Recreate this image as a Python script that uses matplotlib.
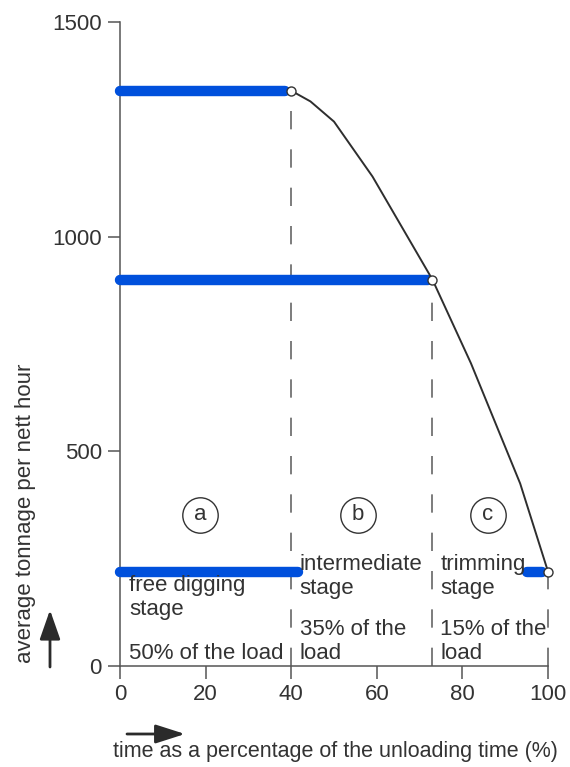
import matplotlib
matplotlib.use("Agg")
import matplotlib.pyplot as plt

plt.rcParams['font.family'] = ['Liberation Sans', 'DejaVu Sans']

# Unloading-rate curve (time %, tonnage per nett hour)
curve_x = [40, 44.5, 50, 59, 73, 82, 93.5, 100]
curve_y = [1340, 1315, 1268, 1140, 900, 705, 425, 220]

# Stage boundaries: end time of each stage and rate at that moment
stage_end_x = [40, 73, 100]
stage_end_y = [1340, 900, 220]

# Average-rate bars: (start, end, level)
bar_start = [0, 0, 0, 95]
bar_end = [38.5, 72, 41.5, 98.5]
bar_level = [1340, 900, 220, 220]

# Stage markers and descriptions
stage_letters = ['a', 'b', 'c']
letter_x = [18.7, 55.6, 86]
letter_y = 352
stage_names = ['free digging\nstage', 'intermediate\nstage', 'trimming\nstage']
stage_share = ['50% of the load', '35% of the\nload', '15% of the\nload']

x_ticks = [0, 20, 40, 60, 80, 100]
y_ticks = [0, 500, 1000, 1500]

W, H = 570, 767
fig = plt.figure(figsize=(W / 100, H / 100), dpi=100)
ax = fig.add_axes([120 / W, 1 - 666 / H, 428 / W, 644 / H])
ax.set_xlim(0, 100)
ax.set_ylim(0, 1500)

FS = 16
TXT = '#333333'
BLUE = '#0050dc'

for sp in ['top', 'right']:
    ax.spines[sp].set_visible(False)
for sp in ['left', 'bottom']:
    ax.spines[sp].set_color('#555555')
    ax.spines[sp].set_linewidth(1.1)

ax.set_xticks(x_ticks)
ax.set_yticks(y_ticks)
ax.tick_params(axis='both', length=9, width=1.1, color='#555555',
               labelsize=FS, labelcolor=TXT, pad=4)

# dashed stage boundaries
for xe, ye in zip(stage_end_x, stage_end_y):
    ax.plot([xe, xe], [0, ye], color='#666666', lw=1.2,
            ls=(0, (11, 12)), zorder=2, clip_on=False)

# average-rate bars
for xs, xe, yl in zip(bar_start, bar_end, bar_level):
    ax.plot([xs, xe], [yl, yl], color=BLUE, lw=7.5,
            solid_capstyle='round', zorder=3, clip_on=False)

# rate curve
ax.plot(curve_x, curve_y, color='#2e2e2e', lw=1.4, zorder=4, clip_on=False)
ax.plot(stage_end_x, stage_end_y, ls='none', marker='o', ms=6.5,
        mfc='white', mec='#333333', mew=1.0, zorder=5, clip_on=False)

# circled stage letters
for lt, lx in zip(stage_letters, letter_x):
    ax.plot(lx, letter_y, marker='o', ms=25.5, mfc='white', mec='#333333',
            mew=1.0, ls='none', zorder=3)
    ax.text(lx, letter_y, lt, ha='center', va='center', fontsize=FS,
            color=TXT, zorder=4)

# stage descriptions (y = baseline of the last line, in pixels from top)
name_pos = [(2.2, 615), (42.0, 594), (74.8, 594)]
share_pos = [(2.2, 659), (42.0, 659), (74.8, 659)]
def py2v(py):
    return (666 - py) / 644 * 1500

for txt, (tx, py) in zip(stage_names, name_pos):
    ax.text(tx, py2v(py), txt, ha='left', va='baseline', fontsize=FS,
            color=TXT, linespacing=1.2, zorder=6)
for txt, (tx, py) in zip(stage_share, share_pos):
    ax.text(tx, py2v(py), txt, ha='left', va='baseline', fontsize=FS,
            color=TXT, linespacing=1.2, zorder=6)

# axis titles
fig.text(25.5 / W, 1 - 663 / H, 'average tonnage per nett hour', rotation=90,
         ha='center', va='bottom', fontsize=FS, color=TXT)
fig.text(113 / W, 1 - 751 / H, 'time as a percentage of the unloading time (%)',
         ha='left', va='center', fontsize=15.5, color=TXT)

# direction arrows
fig.add_artist(matplotlib.patches.FancyArrowPatch(
    (50 / W, 1 - 667 / H), (50 / W, 1 - 610 / H), transform=fig.transFigure,
    arrowstyle='-|>,head_length=1.0,head_width=0.35', mutation_scale=18,
    color='#2b2b2b', lw=2.0, shrinkA=0, shrinkB=0))
fig.add_artist(matplotlib.patches.FancyArrowPatch(
    (127 / W, 1 - 734 / H), (185 / W, 1 - 734 / H), transform=fig.transFigure,
    arrowstyle='-|>,head_length=1.0,head_width=0.32', mutation_scale=18,
    color='#2b2b2b', lw=2.0, shrinkA=0, shrinkB=0))

fig.savefig('out.png', dpi=100, facecolor='white')
